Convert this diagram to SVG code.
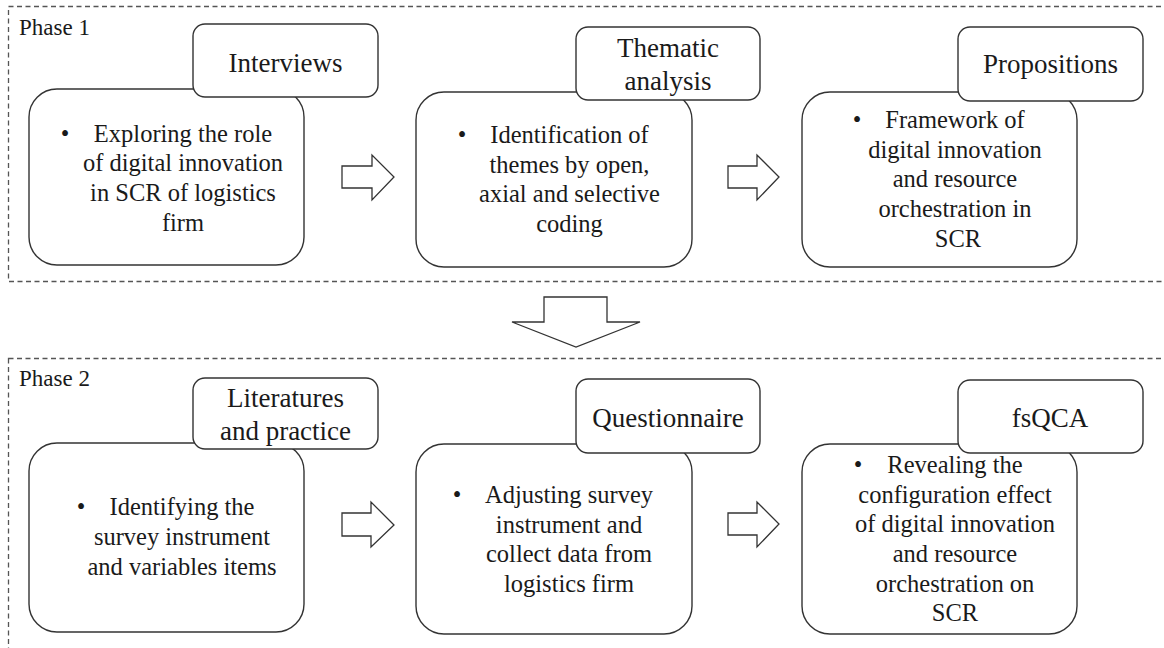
<svg xmlns="http://www.w3.org/2000/svg" width="1164" height="648" viewBox="0 0 1164 648">
  <style>
    .txt text { fill: #1a1a1a; }
    .phase { font-size: 23px; }
    .body { font-size: 24.5px; text-anchor: middle; }
    .bullet { font-size: 24.5px; }
    .tag { font-size: 27px; text-anchor: middle; }
    .frame { fill: none; stroke: #555; stroke-width: 1.3; stroke-dasharray: 5 3.5; }
    .card { fill: #fff; stroke: #333; stroke-width: 1.4; }
    .arrow { fill: #fff; stroke: #333; stroke-width: 1.3; stroke-linejoin: miter; }
  </style>
  <rect width="1164" height="648" fill="#fff"/>

  <g class="txt" font-family="Liberation Serif, Tinos, Times New Roman, DejaVu Serif, serif">
  <!-- phase frames -->
  <g id="phase1">
    <rect class="frame" x="8.5" y="6.5" width="1170" height="275"/>
    <text class="phase" x="19" y="35">Phase 1</text>
  </g>
  <g id="phase2">
    <rect class="frame" x="8.5" y="358.5" width="1170" height="320"/>
    <text class="phase" x="19" y="386">Phase 2</text>
  </g>

  <!-- step cards: main box with a title tab on its upper right -->
  <g id="interviews">
    <rect class="card" x="29" y="89" width="275" height="176" rx="28"/>
    <rect class="card" x="193" y="24" width="185" height="73" rx="12"/>
    <text class="tag" x="285.5" y="72">Interviews</text>
    <text class="bullet" x="60.7" y="141.7">•</text>
    <text class="body" x="183" y="141.7">Exploring the role</text>
    <text class="body" x="183" y="171.3">of digital innovation</text>
    <text class="body" x="183" y="200.9">in SCR of logistics</text>
    <text class="body" x="183" y="230.5">firm</text>
  </g>

  <g id="thematic-analysis">
    <rect class="card" x="416" y="92" width="276" height="175" rx="28"/>
    <rect class="card" x="576" y="27" width="184" height="73" rx="12"/>
    <text class="tag" x="668" y="57">Thematic</text>
    <text class="tag" x="668" y="90">analysis</text>
    <text class="bullet" x="457.7" y="143">•</text>
    <text class="body" x="569.5" y="143">Identification of</text>
    <text class="body" x="569.5" y="172.7">themes by open,</text>
    <text class="body" x="569.5" y="202.4">axial and selective</text>
    <text class="body" x="569.5" y="232">coding</text>
  </g>

  <g id="propositions">
    <rect class="card" x="802" y="92" width="275" height="175" rx="28"/>
    <rect class="card" x="958" y="27" width="185" height="74" rx="12"/>
    <text class="tag" x="1050.5" y="73">Propositions</text>
    <text class="bullet" x="852.7" y="128">•</text>
    <text class="body" x="955" y="128">Framework of</text>
    <text class="body" x="955" y="157.7">digital innovation</text>
    <text class="body" x="955" y="187.4">and resource</text>
    <text class="body" x="955" y="217">orchestration in</text>
    <text class="body" x="958" y="246.7">SCR</text>
  </g>

  <g id="literatures">
    <rect class="card" x="29" y="443" width="275" height="189" rx="28"/>
    <rect class="card" x="193" y="378" width="185" height="71" rx="12"/>
    <text class="tag" x="285.5" y="407">Literatures</text>
    <text class="tag" x="285.5" y="440">and practice</text>
    <text class="bullet" x="76.7" y="515">•</text>
    <text class="body" x="182" y="515">Identifying the</text>
    <text class="body" x="182" y="545">survey instrument</text>
    <text class="body" x="182" y="575">and variables items</text>
  </g>

  <g id="questionnaire">
    <rect class="card" x="416" y="444" width="276" height="190" rx="28"/>
    <rect class="card" x="576" y="379" width="184" height="74" rx="12"/>
    <text class="tag" x="668" y="427">Questionnaire</text>
    <text class="bullet" x="452.7" y="503">•</text>
    <text class="body" x="569" y="503">Adjusting survey</text>
    <text class="body" x="569" y="532.5">instrument and</text>
    <text class="body" x="569" y="562">collect data from</text>
    <text class="body" x="569" y="591.5">logistics firm</text>
  </g>

  <g id="fsqca">
    <rect class="card" x="802" y="444" width="275" height="190" rx="28"/>
    <rect class="card" x="958" y="380" width="185" height="73" rx="12"/>
    <text class="tag" x="1050" y="427">fsQCA</text>
    <text class="bullet" x="853.7" y="473">•</text>
    <text class="body" x="955" y="473">Revealing the</text>
    <text class="body" x="955" y="502.5">configuration effect</text>
    <text class="body" x="955" y="532">of digital innovation</text>
    <text class="body" x="955" y="561.8">and resource</text>
    <text class="body" x="955" y="591.5">orchestration on</text>
    <text class="body" x="955" y="621.3">SCR</text>
  </g>
  </g>

  <!-- block arrows between steps and phases -->
  <g id="connectors">
    <polygon class="arrow" points="342,166 372,166 372,155 394,177 372,200 372,188 342,188"/>
    <polygon class="arrow" points="728,166 757,166 757,155 779,177 757,200 757,188 728,188"/>
    <polygon class="arrow" points="544,297 607,297 607,322 640,322 576,347 512,322 544,322"/>
    <polygon class="arrow" points="342,513 371,513 371,502 394,525 371,547 371,536 342,536"/>
    <polygon class="arrow" points="728,513 757,513 757,502 779,524 757,547 757,535 728,535"/>
  </g>
</svg>
